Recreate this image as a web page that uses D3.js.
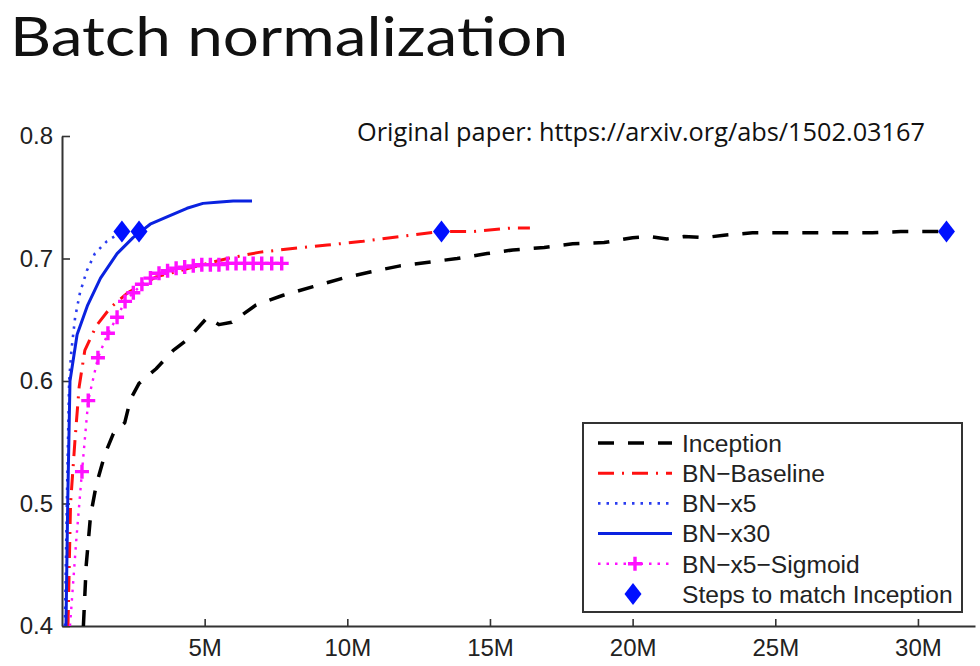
<!DOCTYPE html>
<html><head><meta charset="utf-8">
<script src="https://cdn.jsdelivr.net/npm/d3@7"></script>
<style>html,body{margin:0;padding:0;background:#fff;}svg{display:block;}</style>
</head><body>
<script>
// ---- data (steps in millions, accuracy) ----
const xTicks = [5, 10, 15, 20, 25, 30];
const yTicks = [0.4, 0.5, 0.6, 0.7, 0.8];

const inceptionSteps = [0.75,0.85,1.0,1.2,1.5,1.8,2.2,2.4,2.7,3.0,3.3,3.9,4.4,5.1,5.5,5.95,6.8,7.75,8.8,9.85,10.8,11.85,12.85,13.85,14.9,15.8,16.9,17.9,19.0,20.0,20.6,21.2,21.8,22.5,23.2,24.2,25.3,26.3,27.4,28.4,29.4,30.5,31.0];
const inceptionAcc   = [0.40,0.45,0.49,0.515,0.54,0.557,0.566,0.585,0.598,0.604,0.610,0.625,0.634,0.652,0.646,0.648,0.662,0.670,0.677,0.684,0.689,0.694,0.697,0.700,0.704,0.707,0.709,0.712,0.713,0.717,0.718,0.716,0.718,0.717,0.719,0.721,0.721,0.721,0.721,0.721,0.722,0.722,0.722];

const baselineSteps = [0.21,0.3,0.45,0.6,0.8,1.2,1.7,2.3,3.3,4.6,5.8,6.9,8.0,9.3,10.55,11.85,13.25,14.4,15.8,16.4];
const baselineAcc   = [0.40,0.50,0.55,0.595,0.625,0.645,0.66,0.672,0.685,0.693,0.70,0.705,0.708,0.711,0.714,0.718,0.722,0.722,0.725,0.725];

const x5Steps = [0.1,0.17,0.25,0.33,0.46,0.63,0.87,1.15,1.57,2.1];
const x5Acc   = [0.40,0.50,0.60,0.625,0.652,0.672,0.69,0.704,0.714,0.722];

const x30Steps = [0.14,0.2,0.28,0.53,0.9,1.35,1.93,2.49,3.09,3.68,4.38,4.94,5.43,6.0,6.66];
const x30Acc   = [0.40,0.50,0.60,0.638,0.662,0.684,0.704,0.717,0.728,0.734,0.741,0.745,0.746,0.747,0.747];

const sigmoidSteps = [0.28,0.5,0.7,0.92,1.26,1.61,1.93,2.21,2.5,2.8,3.1,3.4,3.7,4.0,4.3,4.6,4.9,5.2,5.5,5.8,6.1,6.4,6.7,7.0,7.35,7.7];
const sigmoidAcc   = [0.40,0.47,0.526,0.584,0.619,0.639,0.652,0.665,0.672,0.679,0.684,0.688,0.690,0.692,0.693,0.694,0.695,0.695,0.695,0.696,0.696,0.696,0.696,0.696,0.696,0.696];

const matchSteps = [2.1, 2.7, 13.3, 31.0];
const matchAcc   = [0.722, 0.722, 0.722, 0.722];

const legendLabels = ["Inception","BN\u2212Baseline","BN\u2212x5","BN\u2212x30","BN\u2212x5\u2212Sigmoid","Steps to match Inception"];
const titleText = "Batch normalization";
const noteText = "Original paper: https://arxiv.org/abs/1502.03167";

// ---- drawing ----
const W = 980, H = 666;
const svg = d3.select("body").append("svg").attr("width", W).attr("height", H);

const x = d3.scaleLinear().domain([0, 32]).range([62, 975]);
const y = d3.scaleLinear().domain([0.4, 0.8]).range([626, 136]);

svg.append("text").attr("x", 10).attr("y", 56)
  .attr("font-family", "Lato").attr("font-size", 54)
  .attr("textLength", 558).attr("lengthAdjust", "spacingAndGlyphs")
  .attr("fill", "#111").text(titleText);

svg.append("text").attr("x", 357).attr("y", 141)
  .attr("font-family", "Open Sans").attr("font-size", 25)
  .attr("textLength", 568).attr("lengthAdjust", "spacingAndGlyphs")
  .attr("fill", "#111").text(noteText);

const axFont = "Liberation Sans, Arial, sans-serif";
const gx = svg.append("g").attr("transform", `translate(0,${y(0.4)})`)
  .call(d3.axisBottom(x).tickValues(xTicks).tickFormat(d => d + "M").tickSize(-7).tickSizeOuter(0).tickPadding(13));
const gy = svg.append("g").attr("transform", `translate(${x(0)},0)`)
  .call(d3.axisLeft(y).tickValues(yTicks).tickFormat(d3.format(".1f")).tickSize(-8).tickSizeOuter(0).tickPadding(9));
[gx, gy].forEach(g => {
  g.selectAll("path.domain").attr("stroke", "#333").attr("stroke-width", 2);
  g.selectAll(".tick line").attr("stroke", "#333").attr("stroke-width", 1.6);
  g.selectAll(".tick text").attr("font-family", axFont).attr("font-size", 24).attr("fill", "#222");
});

const zip = (a, b) => a.map((v, i) => [v, b[i]]);
const line = d3.line().x(d => x(d[0])).y(d => y(d[1]));

const styles = {
  inception: {stroke: "#000", width: 3.5, dash: "16,14"},
  baseline: {stroke: "#ff1010", width: 3, dash: "16,8,2,8"},
  x5: {stroke: "#2a3cf0", width: 2.6, dash: "2.5,6"},
  x30: {stroke: "#0a22e0", width: 3, dash: null},
  sigmoid: {stroke: "#ff10ff", width: 2.4, dash: "2.5,6"}
};
function drawLine(data, s) {
  svg.append("path").datum(data).attr("d", line).attr("fill", "none")
    .attr("stroke", s.stroke).attr("stroke-width", s.width)
    .attr("stroke-dasharray", s.dash).attr("stroke-linejoin", "round");
}
drawLine(zip(inceptionSteps, inceptionAcc), styles.inception);
drawLine(zip(baselineSteps, baselineAcc), styles.baseline);
drawLine(zip(x5Steps, x5Acc), styles.x5);
drawLine(zip(x30Steps, x30Acc), styles.x30);
const sig = zip(sigmoidSteps, sigmoidAcc);
drawLine(sig, styles.sigmoid);

function plusPath(cx, cy, r) {
  return `M${cx - r},${cy}H${cx + r}M${cx},${cy - r}V${cy + r}`;
}
svg.append("g").selectAll("path").data(sig.filter((d, i) => i >= 2)).join("path")
  .attr("d", d => plusPath(x(d[0]), y(d[1]), 7))
  .attr("stroke", "#ff10ff").attr("stroke-width", 3.4).attr("fill", "none");

function diamondPath(cx, cy, w, h) {
  return `M${cx},${cy - h / 2}L${cx + w / 2},${cy}L${cx},${cy + h / 2}L${cx - w / 2},${cy}Z`;
}
svg.append("g").selectAll("path").data(zip(matchSteps, matchAcc)).join("path")
  .attr("d", d => diamondPath(x(d[0]), y(d[1]), 17, 22))
  .attr("fill", "#0010ff");

// ---- legend ----
const lg = svg.append("g");
lg.append("rect").attr("x", 583).attr("y", 423).attr("width", 379).attr("height", 189)
  .attr("fill", "#fff").attr("stroke", "#333").attr("stroke-width", 2);
const rowY = i => 443 + i * 30.2;
const legendStyles = [styles.inception, styles.baseline, styles.x5, styles.x30, styles.sigmoid];
legendStyles.forEach((s, i) => {
  lg.append("line").attr("x1", 598).attr("x2", 672).attr("y1", rowY(i)).attr("y2", rowY(i))
    .attr("stroke", s.stroke).attr("stroke-width", s.width).attr("stroke-dasharray", s.dash);
});
lg.append("path").attr("d", plusPath(635, rowY(4), 7)).attr("stroke", "#ff10ff").attr("stroke-width", 3.4);
lg.append("path").attr("d", diamondPath(633, rowY(5), 17, 22)).attr("fill", "#0010ff");
lg.selectAll("text.lbl").data(legendLabels).join("text").attr("class", "lbl")
  .attr("x", 682).attr("y", (d, i) => rowY(i)).attr("dy", "0.36em")
  .attr("font-family", axFont).attr("font-size", 24.6).attr("fill", "#222").text(d => d);
</script>
</body></html>
